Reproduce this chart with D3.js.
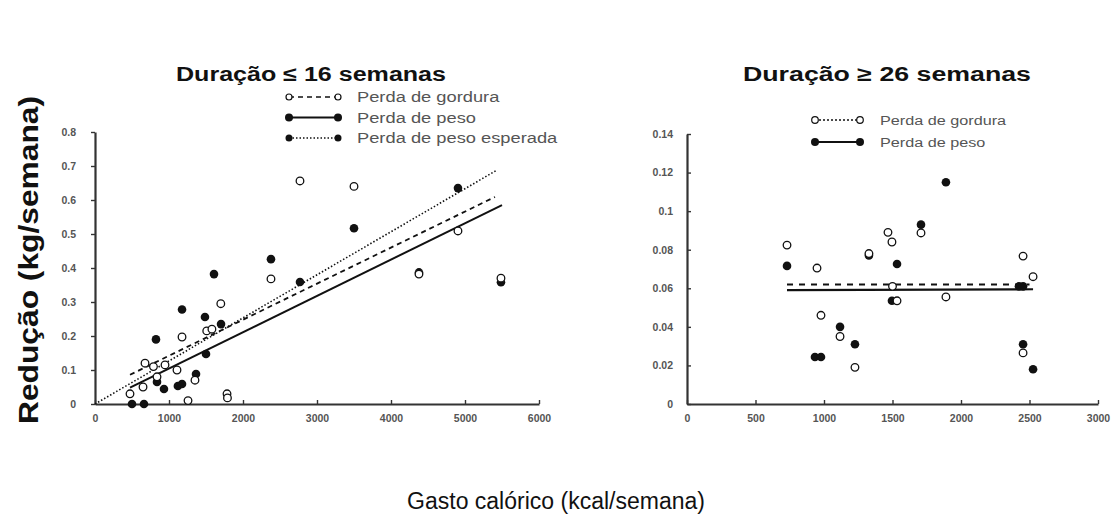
<!DOCTYPE html>
<html>
<head>
<meta charset="utf-8">
<script src="https://cdn.jsdelivr.net/npm/d3@7"></script>
<style>
  html, body { margin: 0; padding: 0; background: #fff; }
  svg { display: block; font-family: "Liberation Sans", Arial, sans-serif; }
</style>
</head>
<body>
<svg id="chart" width="1119" height="522"></svg>
<script>
// ---- Data: short programmes (≤ 16 weeks) ----
const shortFat = [ // [kcal/semana, kg/semana]
  [473,0.03],[649,0.05],[676,0.12],[790,0.11],[838,0.08],[946,0.115],[1108,0.1],
  [1176,0.197],[1257,0.01],[1351,0.07],[1510,0.215],[1580,0.22],[1700,0.295],
  [1784,0.03],[1790,0.018],[2378,0.368],[2770,0.656],[3500,0.64],[4378,0.382],
  [4905,0.509],[5486,0.37]
];
const shortWeight = [
  [500,0],[662,0],[824,0.19],[838,0.065],[932,0.044],[1120,0.053],[1176,0.059],
  [1176,0.278],[1365,0.088],[1486,0.256],[1500,0.147],[1608,0.382],[1703,0.235],
  [2378,0.426],[2770,0.359],[3500,0.517],[4378,0.387],[4905,0.635],[5486,0.358]
];
const shortFatFit = [[473,0.086],[5405,0.609]];
const shortWeightFit = [[473,0.048],[5500,0.585]];
const shortExpected = [[0,0],[5432,0.688]];

// ---- Data: long programmes (≥ 26 weeks) ----
const longFat = [
  [730,0.0824],[949,0.0705],[978,0.046],[1117,0.035],[1226,0.019],[1328,0.078],
  [1467,0.089],[1496,0.084],[1500,0.061],[1533,0.0535],[1708,0.0887],[1890,0.0555],
  [2453,0.0767],[2526,0.066],[2453,0.0265]
];
const longWeight = [
  [730,0.0716],[934,0.0244],[978,0.0244],[1117,0.040],[1226,0.031],[1328,0.077],
  [1533,0.0726],[1496,0.0535],[1708,0.093],[1890,0.115],[2423,0.061],[2453,0.061],
  [2453,0.031],[2526,0.018]
];
const longFatFit = [[730,0.062],[2500,0.062]];
const longWeightFit = [[730,0.059],[2526,0.0595]];

// ---- Axis ticks and text ----
const shortXTicks = [0,1000,2000,3000,4000,5000,6000];
const shortYTicks = [0,0.1,0.2,0.3,0.4,0.5,0.6,0.7,0.8];
const longXTicks = [0,500,1000,1500,2000,2500,3000];
const longYTicks = [0,0.02,0.04,0.06,0.08,0.1,0.12,0.14];
const titles = ["Duração ≤ 16 semanas", "Duração ≥ 26 semanas"];
const shortLegend = ["Perda de gordura", "Perda de peso", "Perda de peso esperada"];
const longLegend = ["Perda de gordura", "Perda de peso"];
const yTitle = "Redução (kg/semana)";
const xTitle = "Gasto calórico (kcal/semana)";

const svg = d3.select("#chart");
const ink = "#111";
const axisInk = "#333";
const labelInk = "#555";

function panel(cfg) {
  const x = d3.scaleLinear().domain(cfg.xDomain).range(cfg.xRange);
  const y = d3.scaleLinear().domain(cfg.yDomain).range(cfg.yRange);
  const g = svg.append("g");

  const xa = g.append("g")
    .attr("transform", `translate(0,${cfg.yRange[0]})`)
    .call(d3.axisBottom(x).tickValues(cfg.xTicks).tickFormat(d3.format("d"))
      .tickSizeInner(-4).tickSizeOuter(0).tickPadding(11));
  const ya = g.append("g")
    .attr("transform", `translate(${cfg.xRange[0]},0)`)
    .call(d3.axisLeft(y).tickValues(cfg.yTicks).tickFormat(d => d === 0 ? "0" : String(+d.toFixed(2)))
      .tickSizeInner(cfg.yTickIn ? -4 : 4).tickSizeOuter(0).tickPadding(cfg.yPad));
  [xa, ya].forEach(a => {
    a.select(".domain").attr("stroke", axisInk).attr("stroke-width", 2.2);
    a.selectAll(".tick line").attr("stroke", axisInk).attr("stroke-width", 1.4);
    a.selectAll("text").attr("fill", labelInk).attr("font-size", 10.5)
      .attr("font-weight", "bold");
  });

  const line = d3.line().x(d => x(d[0])).y(d => y(d[1]));
  cfg.lines.forEach(l => {
    g.append("path").datum(l.data).attr("d", line)
      .attr("fill", "none").attr("stroke", ink)
      .attr("stroke-width", l.w).attr("stroke-dasharray", l.dash);
  });

  g.append("g").selectAll("circle").data(cfg.filled).join("circle")
    .attr("cx", d => x(d[0])).attr("cy", d => y(d[1])).attr("r", 4.3)
    .attr("fill", ink);
  g.append("g").selectAll("circle").data(cfg.open).join("circle")
    .attr("cx", d => x(d[0])).attr("cy", d => y(d[1])).attr("r", 3.8)
    .attr("fill", "#fff").attr("stroke", ink).attr("stroke-width", 1.3);

  svg.append("text").attr("x", cfg.titleX).attr("y", 81)
    .attr("text-anchor", "middle").attr("font-weight", "bold")
    .attr("font-size", 20).attr("fill", ink)
    .attr("textLength", cfg.titleLen).attr("lengthAdjust", "spacingAndGlyphs")
    .text(cfg.title);

  // legend
  const lg = svg.append("g");
  cfg.legend.forEach((it, i) => {
    const cy = cfg.legY + i * cfg.legStep;
    const x0 = cfg.legX, x1 = cfg.legX + cfg.legW;
    lg.append("line").attr("x1", x0).attr("x2", x1).attr("y1", cy).attr("y2", cy)
      .attr("stroke", ink).attr("stroke-width", it.w).attr("stroke-dasharray", it.dash);
    [x0, x1].forEach(cx => {
      lg.append("circle").attr("cx", cx).attr("cy", cy).attr("r", it.r)
        .attr("fill", it.open ? "#fff" : ink)
        .attr("stroke", ink).attr("stroke-width", it.open ? 1.2 : 0);
    });
    lg.append("text")
      .attr("transform", `translate(${cfg.legTextX},${cy + 5}) scale(${cfg.legStretch},1)`)
      .attr("font-size", cfg.legFont).attr("fill", labelInk).text(it.label);
  });
}

panel({
  xDomain: [0, 6000], xRange: [95, 539],
  yDomain: [0, 0.8], yRange: [404, 132],
  xTicks: shortXTicks, yTicks: shortYTicks, yPad: 15, yTickIn: false,
  filled: shortWeight, open: shortFat,
  lines: [
    { data: shortExpected, w: 1.6, dash: "1.5,2" },
    { data: shortFatFit, w: 1.8, dash: "5,4" },
    { data: shortWeightFit, w: 2, dash: null }
  ],
  title: titles[0], titleX: 311, titleLen: 270,
  legend: [
    { label: shortLegend[0], open: true, r: 3, w: 1.6, dash: "5,4" },
    { label: shortLegend[1], open: false, r: 4, w: 2, dash: null },
    { label: shortLegend[2], open: false, r: 3.5, w: 1.5, dash: "1.5,2" }
  ],
  legX: 289, legW: 49, legY: 97, legStep: 20.5, legTextX: 357, legFont: 15, legStretch: 1.22
});

panel({
  xDomain: [0, 3000], xRange: [687, 1098],
  yDomain: [0, 0.14], yRange: [404, 134],
  xTicks: longXTicks, yTicks: longYTicks, yPad: 14, yTickIn: true,
  filled: longWeight, open: longFat,
  lines: [
    { data: longFatFit, w: 2, dash: "6,6" },
    { data: longWeightFit, w: 2.2, dash: null }
  ],
  title: titles[1], titleX: 887, titleLen: 288,
  legend: [
    { label: longLegend[0], open: true, r: 3.3, w: 1.5, dash: "2,2" },
    { label: longLegend[1], open: false, r: 4, w: 2, dash: null }
  ],
  legX: 815, legW: 45, legY: 120, legStep: 22, legTextX: 880, legFont: 13.5, legStretch: 1.2
});

// shared axis titles
svg.append("text")
  .attr("transform", "translate(38,260) rotate(-90)")
  .attr("text-anchor", "middle").attr("font-weight", "bold")
  .attr("font-size", 28).attr("fill", ink)
  .attr("textLength", 328).attr("lengthAdjust", "spacingAndGlyphs")
  .text(yTitle);
svg.append("text")
  .attr("x", 556).attr("y", 509).attr("text-anchor", "middle")
  .attr("font-size", 23).attr("fill", ink).text(xTitle);
</script>
</body>
</html>
